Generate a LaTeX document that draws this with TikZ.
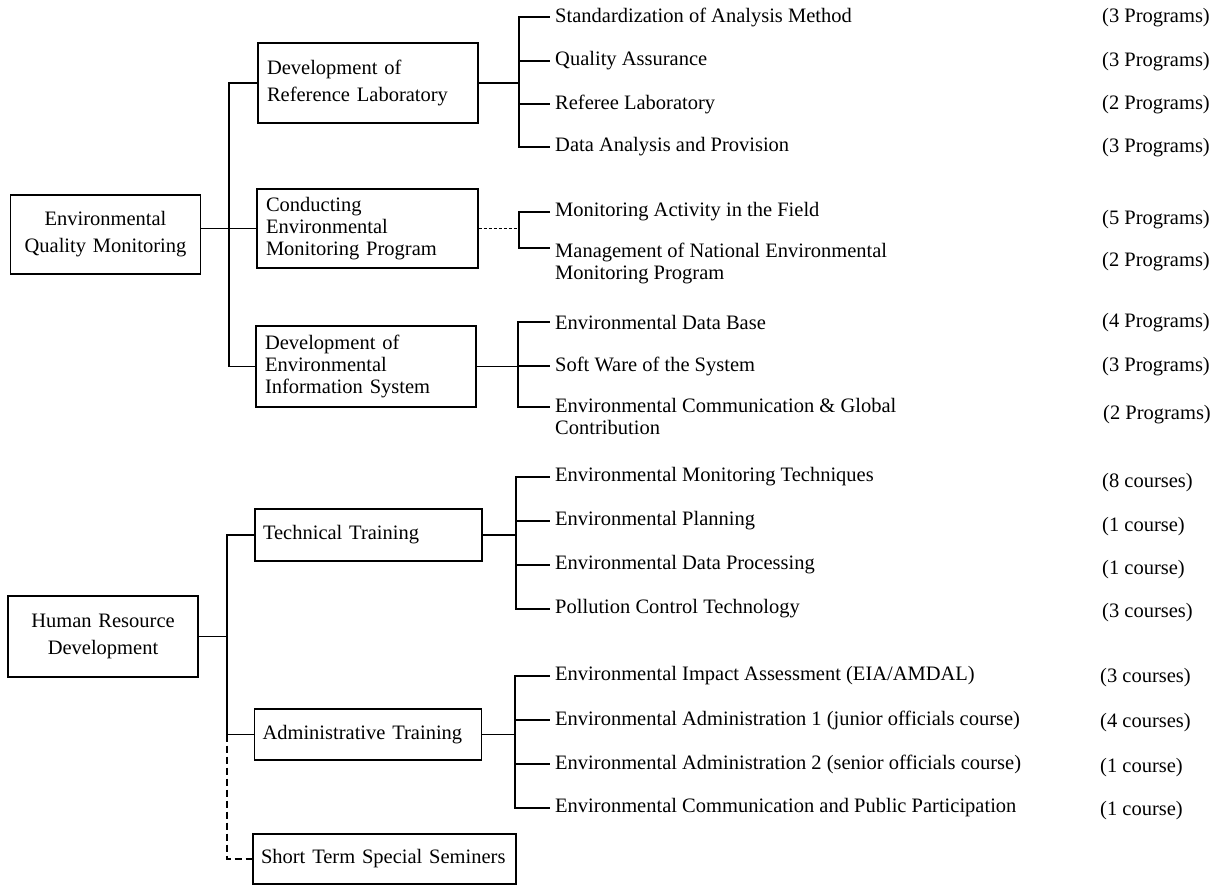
\documentclass[tikz,border=0pt]{standalone}
\usepackage{fontspec}
\setmainfont{Liberation Serif}
\usepackage{tikz}

\tikzset{
  box/.style={draw, line width=1.2pt, inner xsep=9pt, inner ysep=0pt},
  item/.style={anchor=west, inner xsep=5pt, inner ysep=0pt},
  twoline/.style={anchor=north west, inner xsep=5pt, inner ysep=0pt, align=left},
  cnt/.style={anchor=west, inner sep=0pt},
  link/.style={line width=1.2pt},
}

\begin{document}
\begin{tikzpicture}[x=1pt, y=-1pt, font=\fontsize{20.5}{22}\selectfont]
  \useasboundingbox (0,0) rectangle (1225,885);

  % Draw main boxes
  \node[box, align=center, text width=172pt, minimum height=79pt] (eqm) at (105.5,234.5) {Environmental\\[5pt]Quality Monitoring};
  \node[box, align=center, text width=172pt, minimum height=81pt] (hrd) at (103,636.5) {Human Resource\\[5pt]Development};

  % Draw second level boxes
  \node[box, align=left, text width=202pt, minimum height=80pt] (drl) at (368,83) {Development of\\[5pt]Reference Laboratory};
  \node[box, align=left, text width=203pt, minimum height=79pt] (cemp) at (367.5,228.5) {Conducting\\Environmental\\Monitoring Program};
  \node[box, align=left, text width=202pt, minimum height=81pt] (deis) at (366,366.5) {Development of\\Environmental\\Information System};
  \node[box, align=left, text width=211pt, inner xsep=8pt, minimum height=52pt] (tt) at (368.5,535) {Technical Training};
  \node[box, align=left, text width=211pt, inner xsep=8pt, minimum height=51pt] (at) at (368,734.5) {Administrative Training};
  \node[box, align=left, text width=247pt, inner xsep=8pt, minimum height=50pt] (stss) at (384.5,859) {Short Term Special Seminers};

  % Spines of the brackets
  \coordinate (t1) at (229,0);
  \coordinate (t2) at (227,0);
  \coordinate (s1) at (519,0);
  \coordinate (s3) at (518,0);
  \coordinate (s4) at (516,0);
  \coordinate (s5) at (515,0);

  % Draw items
  \node[item] (sa) at (550,17) {Standardization of Analysis Method};
  \node[item] (qa) at (550,61) {Quality Assurance};
  \node[item] (rl) at (550,104) {Referee Laboratory};
  \node[item] (dp) at (550,147) {Data Analysis and Provision};

  \node[item] (ma) at (550,212) {Monitoring Activity in the Field};
  \node[twoline] (mg) at (550,243) {Management of National Environmental\\Monitoring Program};
  \coordinate (mg1) at ([yshift=-5pt]mg.north west);

  \node[item] (db) at (550,322) {Environmental Data Base};
  \node[item] (sw) at (550,366) {Soft Ware of the System};
  \node[twoline] (ec) at (550,398) {Environmental Communication \& Global\\Contribution};
  \coordinate (ec1) at ([yshift=-9pt]ec.north west);

  \node[item] (mt) at (550,477) {Environmental Monitoring Techniques};
  \node[item] (ep) at (550,521) {Environmental Planning};
  \node[item] (edp) at (550,565) {Environmental Data Processing};
  \node[item] (pc) at (550,609) {Pollution Control Technology};

  \node[item] (eia) at (550,676) {Environmental Impact Assessment (EIA/AMDAL)};
  \node[item] (ea1) at (550,720) {Environmental Administration 1 (junior officials course)};
  \node[item] (ea2) at (550,764) {Environmental Administration 2 (senior officials course)};
  \node[item] (ecp) at (550,808) {Environmental Communication and Public Participation};

  % Draw counts
  \node[cnt] (c1) at (1102,18) {(3 Programs)};
  \node[cnt] (c2) at (1102,62) {(3 Programs)};
  \node[cnt] (c3) at (1102,105) {(2 Programs)};
  \node[cnt] (c4) at (1102,148) {(3 Programs)};
  \node[cnt] (c5) at (1102,220) {(5 Programs)};
  \node[cnt] (c6) at (1102,262) {(2 Programs)};
  \node[cnt] (c7) at (1102,323) {(4 Programs)};
  \node[cnt] (c8) at (1102,367) {(3 Programs)};
  \node[cnt] (c9) at (1103,415) {(2 Programs)};
  \node[cnt] (c10) at (1102,483) {(8 courses)};
  \node[cnt] (c11) at (1102,527) {(1 course)};
  \node[cnt] (c12) at (1102,570) {(1 course)};
  \node[cnt] (c13) at (1102,613) {(3 courses)};
  \node[cnt] (c14) at (1100,678) {(3 courses)};
  \node[cnt] (c15) at (1100,723) {(4 courses)};
  \node[cnt] (c16) at (1100,768) {(1 course)};
  \node[cnt] (c17) at (1100,811) {(1 course)};

  % Draw trunks
  \draw[link] (eqm.east |- cemp.west) -- (cemp.west);
  \draw[link] (drl.west) -- (drl.west -| t1) -- (deis.west -| t1) -- (deis.west);
  \draw[link] (hrd.east) -- (hrd.east -| t2);
  \draw[link] (tt.west) -- (tt.west -| t2) -- (at.west -| t2) -- (at.west);
  \draw[link, dash pattern=on 7pt off 4pt] (at.west -| t2) |- (stss.west);

  % Draw brackets
  \draw[link] (drl.east) -- (drl.east -| s1);
  \foreach \n in {sa.west,qa.west,rl.west,dp.west}
    \draw[link] (drl.east -| s1) |- (\n);
  \draw[line width=0.7pt, dash pattern=on 3pt off 2pt] (cemp.east) -- (cemp.east -| s1);
  \draw[link] (ma.west) -| (mg1 -| s1) -- (mg1);
  \draw[link] (deis.east) -- (deis.east -| s3);
  \foreach \n in {db.west,sw.west,ec1}
    \draw[link] (deis.east -| s3) |- (\n);
  \draw[link] (tt.east) -- (tt.east -| s4);
  \foreach \n in {mt,ep,edp,pc}
    \draw[link] (tt.east -| s4) |- (\n.west);
  \draw[link] (at.east) -- (at.east -| s5);
  \foreach \n in {eia,ea1,ea2,ecp}
    \draw[link] (at.east -| s5) |- (\n.west);
\end{tikzpicture}
\end{document}
